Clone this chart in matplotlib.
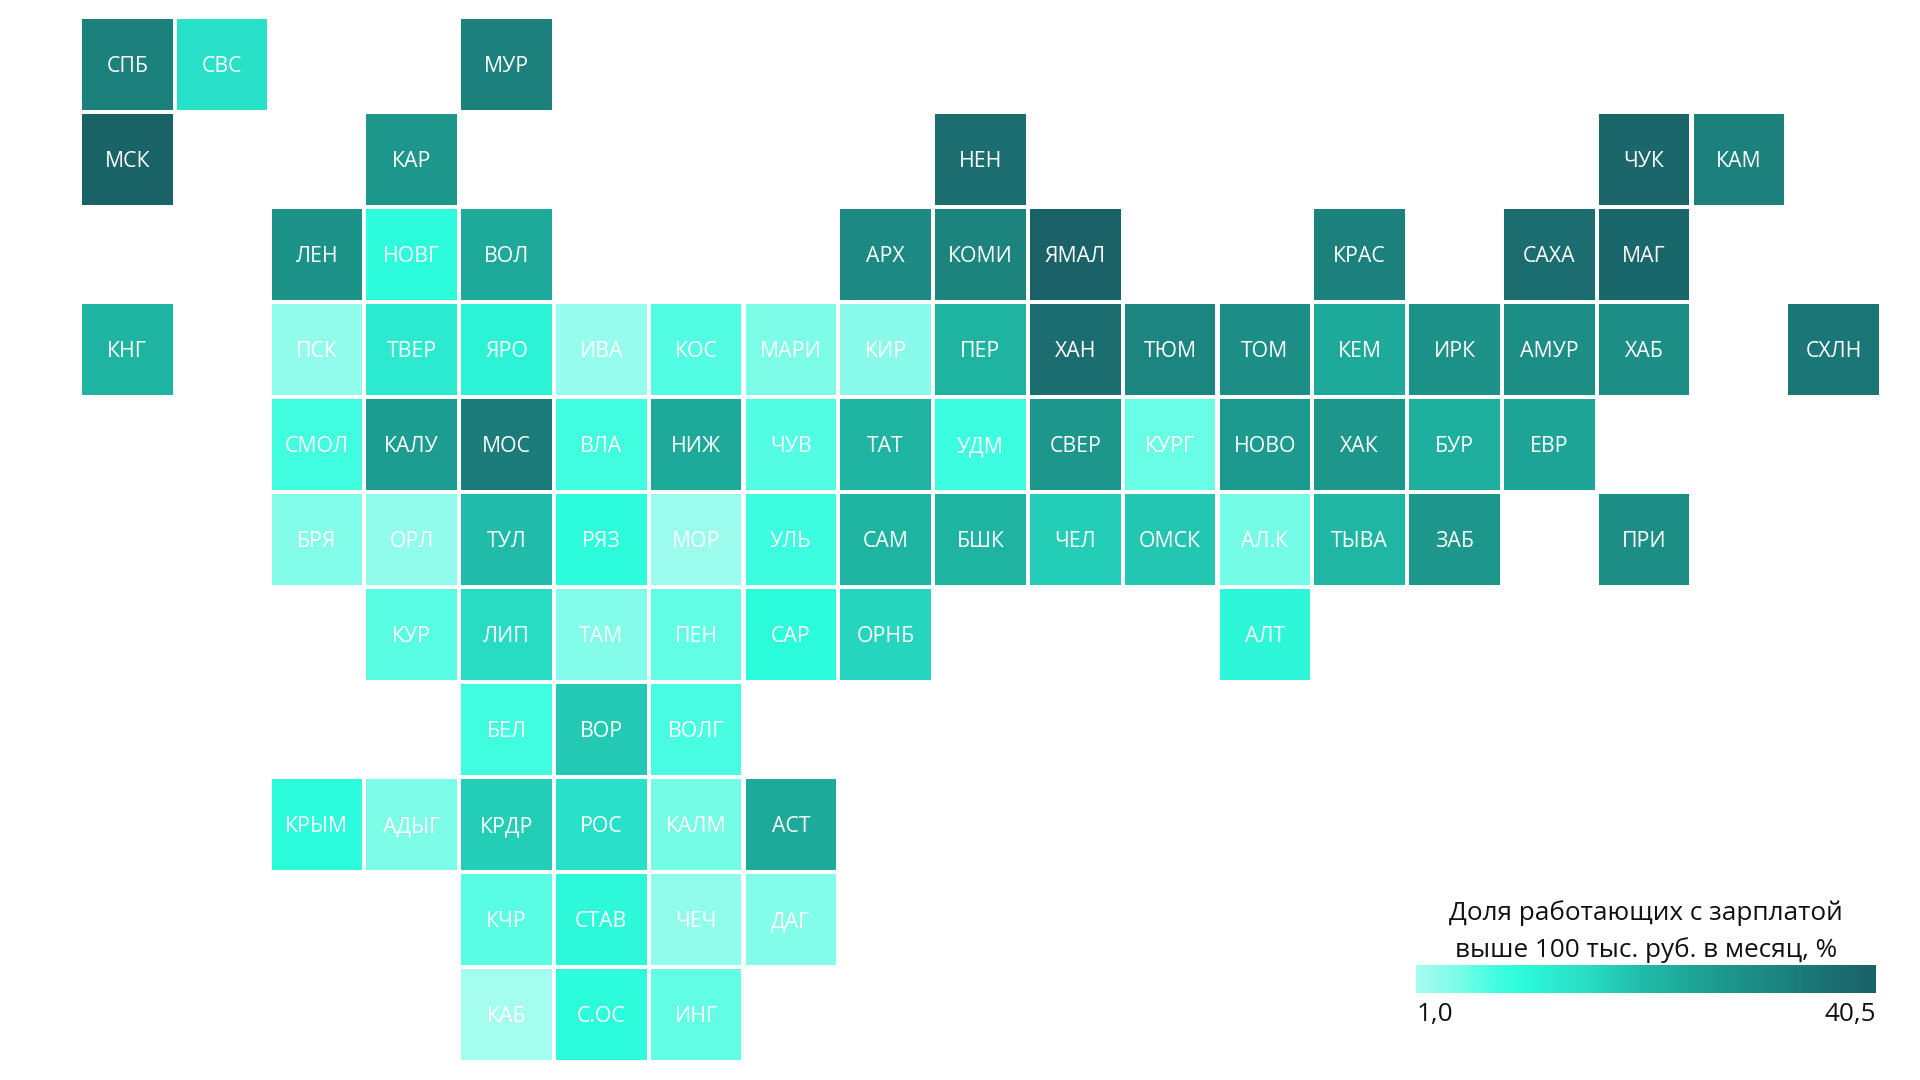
import matplotlib
matplotlib.use('Agg')
import matplotlib.pyplot as plt
from matplotlib.colors import LinearSegmentedColormap, Normalize
from matplotlib.patches import Rectangle
import numpy as np

plt.rcParams['font.family'] = ['Open Sans', 'Noto Sans', 'DejaVu Sans']

# rows of the tile map: labels, columns and share of workers (%)
labels_0 = ['СПБ', 'СВС', 'МУР']
cols_0 = [0, 1, 4]
vals_0 = [33, 15, 33]

labels_1 = ['МСК', 'КАР', 'НЕН', 'ЧУК', 'КАМ']
cols_1 = [0, 3, 9, 16, 17]
vals_1 = [40, 28, 37.5, 39.5, 33]

labels_2 = ['ЛЕН', 'НОВГ', 'ВОЛ', 'АРХ', 'КОМИ', 'ЯМАЛ', 'КРАС', 'САХА', 'МАГ']
cols_2 = [2, 3, 4, 8, 9, 10, 13, 15, 16]
vals_2 = [29, 10, 24, 31, 32.5, 40.5, 33, 37.5, 39]

labels_3 = ['КНГ', 'ПСК', 'ТВЕР', 'ЯРО', 'ИВА', 'КОС', 'МАРИ', 'КИР', 'ПЕР', 'ХАН', 'ТЮМ', 'ТОМ', 'КЕМ', 'ИРК', 'АМУР', 'ХАБ', 'СХЛН']
cols_3 = [0, 2, 3, 4, 5, 6, 7, 8, 9, 10, 11, 12, 13, 14, 15, 16, 18]
vals_3 = [22, 3, 13, 11.5, 2.5, 7, 4.5, 3.5, 22, 37.5, 32, 30, 24, 29, 30, 30, 35]

labels_4 = ['СМОЛ', 'КАЛУ', 'МОС', 'ВЛА', 'НИЖ', 'ЧУВ', 'ТАТ', 'УДМ', 'СВЕР', 'КУРГ', 'НОВО', 'ХАК', 'БУР', 'ЕВР']
cols_4 = [2, 3, 4, 5, 6, 7, 8, 9, 10, 11, 12, 13, 14, 15]
vals_4 = [8, 26.5, 34, 8, 24, 7, 22, 8.5, 28, 5.5, 27, 28, 23, 25]

labels_5 = ['БРЯ', 'ОРЛ', 'ТУЛ', 'РЯЗ', 'МОР', 'УЛЬ', 'САМ', 'БШК', 'ЧЕЛ', 'ОМСК', 'АЛ.К', 'ТЫВА', 'ЗАБ', 'ПРИ']
cols_5 = [2, 3, 4, 5, 6, 7, 8, 9, 10, 11, 12, 13, 14, 16]
vals_5 = [4, 3, 20.5, 10, 2, 8.5, 22, 22, 18, 19, 5, 21.5, 28, 30]

labels_6 = ['КУР', 'ЛИП', 'ТАМ', 'ПЕН', 'САР', 'ОРНБ', 'АЛТ']
cols_6 = [3, 4, 5, 6, 7, 8, 12]
vals_6 = [6.5, 16, 4, 6, 10, 17, 11]

labels_7 = ['БЕЛ', 'ВОР', 'ВОЛГ']
cols_7 = [4, 5, 6]
vals_7 = [8, 18.5, 7.5]

labels_8 = ['КРЫМ', 'АДЫГ', 'КРДР', 'РОС', 'КАЛМ', 'АСТ']
cols_8 = [2, 3, 4, 5, 6, 7]
vals_8 = [10, 4.5, 18, 15, 5, 24]

labels_9 = ['КЧР', 'СТАВ', 'ЧЕЧ', 'ДАГ']
cols_9 = [4, 5, 6, 7]
vals_9 = [6.5, 10.5, 3, 4]

labels_10 = ['КАБ', 'С.ОС', 'ИНГ']
cols_10 = [4, 5, 6]
vals_10 = [1, 10, 6]

rows = [
    (labels_0, cols_0, vals_0), (labels_1, cols_1, vals_1), (labels_2, cols_2, vals_2),
    (labels_3, cols_3, vals_3), (labels_4, cols_4, vals_4), (labels_5, cols_5, vals_5),
    (labels_6, cols_6, vals_6), (labels_7, cols_7, vals_7), (labels_8, cols_8, vals_8),
    (labels_9, cols_9, vals_9), (labels_10, cols_10, vals_10),
]

vmin, vmax = 1.0, 40.5

# colour scale, stops given in % of workers
stops = [(1, '#a5fdf0'), (3, '#90fbec'), (4.5, '#7cfce8'), (6, '#60fde5'), (8, '#40fde0'),
         (10, '#2dfcdc'), (13, '#2ceacf'), (16, '#28dcc4'), (18, '#24cdb6'), (21, '#20b8a6'),
         (24, '#1eaa9b'), (27, '#1d9a8f'), (30, '#1c8e85'), (33, '#1c817c'), (36, '#1b7375'),
         (40.5, '#1a6267')]
cmap = LinearSegmentedColormap.from_list(
    'teal', [((v - vmin) / (vmax - vmin), c) for v, c in stops])
norm = Normalize(vmin, vmax)

W, H = 1920, 1080
fig = plt.figure(figsize=(W / 100, H / 100), dpi=100)
ax = fig.add_axes([0, 0, 1, 1])
ax.set_xlim(0, W)
ax.set_ylim(H, 0)
ax.axis('off')

x0, y0, xstep, ystep, side = 82, 19, 94.8, 95, 90.5

for row, (labels, cols, vals) in enumerate(rows):
    for name, col, val in zip(labels, cols, vals):
        x = x0 + col * xstep
        y = y0 + row * ystep
        ax.add_patch(Rectangle((x, y), side, side, color=cmap(norm(val)), lw=0))
        ax.text(x + side / 2, y + side / 2 + 2.5, name, color='white', fontsize=15.3,
                ha='center', va='center')

# legend
grad = np.linspace(0, 1, 256).reshape(1, -1)
ax.imshow(grad, cmap=cmap, extent=(1416, 1876, 993, 965), aspect='auto')
ax.set_xlim(0, W)
ax.set_ylim(H, 0)
ax.text(1646, 913, 'Доля работающих с зарплатой', fontsize=18.8, ha='center', va='center', color='#111111')
ax.text(1646, 950, 'выше 100 тыс. руб. в месяц, %', fontsize=18.8, ha='center', va='center', color='#111111')
ax.text(1417, 1015, '1,0', fontsize=18.8, ha='left', va='center', color='#111111')
ax.text(1876, 1015, '40,5', fontsize=18.8, ha='right', va='center', color='#111111')

fig.savefig('out.png', dpi=100)
